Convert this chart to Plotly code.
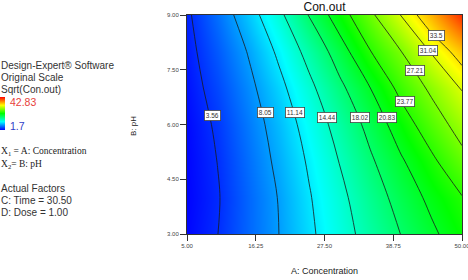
import plotly.graph_objects as go

# ---- data (Sqrt(Con.out) response, original scale) ----
conc = [5, 10, 15, 20, 25, 30, 35, 40, 45, 50]          # A: Concentration
ph = [3, 4, 5, 6, 7, 8, 9]                               # B: pH
z_ph3 = [1.90, 3.53, 5.78, 8.03, 10.58, 13.15, 15.65, 18.06, 20.29, 22.50]
z_ph4 = [1.81, 3.37, 5.76, 8.16, 10.92, 13.67, 16.45, 19.12, 21.51, 23.64]
z_ph5 = [1.86, 3.60, 6.10, 8.67, 11.51, 14.56, 17.60, 20.49, 23.18, 26.20]
z_ph6 = [2.00, 3.95, 6.55, 9.27, 12.35, 15.68, 18.96, 22.27, 25.46, 28.60]
z_ph7 = [2.36, 4.60, 7.25, 10.26, 13.67, 17.35, 20.83, 24.60, 27.83, 31.25]
z_ph8 = [2.72, 5.32, 8.19, 11.66, 15.52, 19.53, 23.68, 27.14, 31.29, 34.90]
z_ph9 = [3.10, 6.23, 9.67, 13.63, 18.19, 22.38, 26.54, 31.12, 35.60, 41.00]
levels = [3.56, 8.05, 11.14, 14.44, 18.02, 20.83, 23.77, 27.21, 31.04, 33.5]
level_text = ["3.56", "8.05", "11.14", "14.44", "18.02", "20.83", "23.77", "27.21", "31.04", "33.5"]
zmin, zmax = 1.7, 42.83
x_ticks = [5.00, 16.25, 27.50, 38.75, 50.00]
y_ticks = [3.00, 4.50, 6.00, 7.50, 9.00]

z = [z_ph3, z_ph4, z_ph5, z_ph6, z_ph7, z_ph8, z_ph9]

# ---- layout geometry ----
W, H = 468, 280
L, R, T, B = 187, 6, 15, 46
PW, PH = W - L - R, H - T - B

def px_x(px):
    return (px - L) / PW

def px_y(py):
    return (H - B - py) / PH

cscale = [[0.0, "rgb(0,0,255)"], [0.25, "rgb(0,255,255)"], [0.5, "rgb(0,255,0)"],
          [0.75, "rgb(255,255,0)"], [1.0, "rgb(255,0,0)"]]

fig = go.Figure()
fig.add_trace(go.Heatmap(
    x=conc, y=ph, z=z, zmin=zmin, zmax=zmax, zsmooth="best", colorscale=cscale,
    showscale=True, hoverinfo="skip",
    colorbar=dict(x=px_x(0), xanchor="left", xpad=0, ypad=0,
                  y=px_y(113.5), yanchor="middle",
                  thickness=5, thicknessmode="pixels", len=33, lenmode="pixels",
                  showticklabels=False, ticks="", outlinewidth=0),
))
for lv in levels:
    fig.add_trace(go.Contour(
        x=conc, y=ph, z=z, autocontour=False,
        contours=dict(start=lv, end=lv, size=1, coloring="none"),
        line=dict(color="#1a1a1a", width=0.8, smoothing=1.0),
        showscale=False, hoverinfo="skip",
    ))

# contour label boxes (positions of the labels in the reference, data units)
label_x = [9.1, 17.8, 22.7, 27.9, 33.3, 37.7, 40.7, 42.3, 44.4, 45.9]
label_y = [6.26, 6.33, 6.33, 6.20, 6.19, 6.19, 6.62, 7.47, 8.04, 8.45]
anns = []
for t, lx, ly in zip(level_text, label_x, label_y):
    anns.append(dict(x=lx, y=ly, xref="x", yref="y", text=t, showarrow=False,
                     font=dict(size=6.5, color="#333", family="Arial, Liberation Sans"),
                     bgcolor="white", bordercolor="#444", borderwidth=0.8, borderpad=1))

sans = "Arial, Liberation Sans"
serif = "Times New Roman, Liberation Serif"

def txt(text, px, py, size=10, color="#333", family=sans, xanchor="left", angle=0):
    anns.append(dict(x=px_x(px), y=px_y(py), xref="paper", yref="paper", text=text,
                     showarrow=False, xanchor=xanchor, yanchor="middle", textangle=angle,
                     font=dict(size=size, color=color, family=family)))

txt("Design-Expert® Software", -1.5, 65)
txt("Original Scale", -1.5, 77)
txt("Sqrt(Con.out)", -1.5, 89)
txt("42.83", 8, 102, size=10.5, color="#e8403a")
txt("1.7", 8, 126, size=10.5, color="#3040c8")
txt("X<sub>1</sub> = A: Concentration", -1.5, 151, size=9.5, color="#222", family=serif)
txt("X<sub>2</sub>= B: pH", -1.5, 164, size=9.5, color="#222", family=serif)
txt("Actual Factors", -1.5, 188)
txt("C: Time = 30.50", -1.5, 200)
txt("D: Dose = 1.00", -1.5, 212)
txt("A: Concentration", 324.5, 271, size=9, color="#222", xanchor="center")
txt("B: pH", 133, 126, size=8, color="#222", xanchor="center", angle=-90)

fig.update_layout(
    width=W, height=H,
    margin=dict(l=L, r=R, t=T, b=B, autoexpand=False),
    paper_bgcolor="white", plot_bgcolor="white",
    showlegend=False,
    title=dict(text="Con.out", x=0.5, xref="paper", xanchor="center",
               y=1 - 7 / H, yanchor="middle",
               font=dict(size=12, color="#111", family=sans)),
    xaxis=dict(range=[5, 50], tickvals=x_ticks, ticktext=[f"{v:.2f}" for v in x_ticks],
               ticks="outside", ticklen=6, tickcolor="#333", tickwidth=1,
               ticklabeloverflow="allow",
               tickfont=dict(size=6, color="#444", family=sans),
               showline=True, mirror=True, linecolor="#333", linewidth=1,
               showgrid=False, zeroline=False),
    yaxis=dict(range=[3, 9], tickvals=y_ticks, ticktext=[f"{v:.2f}" for v in y_ticks],
               ticks="outside", ticklen=6, tickcolor="#333", tickwidth=1,
               ticklabeloverflow="allow",
               tickfont=dict(size=6, color="#444", family=sans),
               showline=True, mirror=True, linecolor="#333", linewidth=1,
               showgrid=False, zeroline=False),
    annotations=anns,
)

fig.write_html("out.html")
